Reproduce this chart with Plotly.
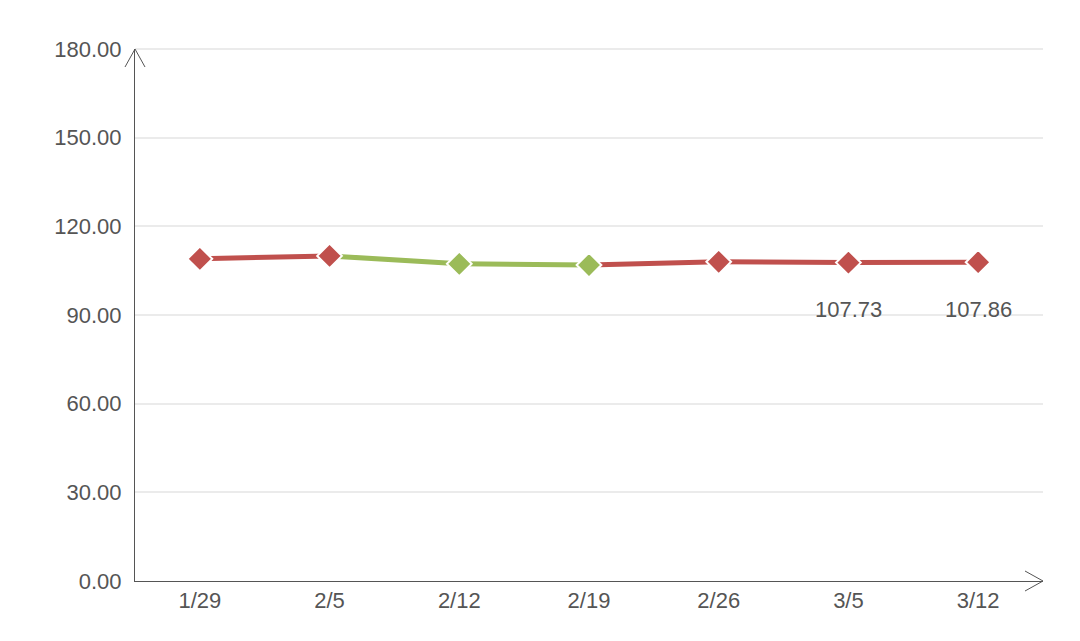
import plotly.graph_objects as go

dates = ["1/29", "2/5", "2/12", "2/19", "2/26", "3/5", "3/12"]
values = [109.0, 110.0, 107.3, 106.9, 108.0, 107.73, 107.86]
labels = ["", "", "", "", "", "107.73", "107.86"]
point_colors = ["red", "red", "green", "green", "red", "red", "red"]
yticks = [0, 30, 60, 90, 120, 150, 180]

COL = {"red": "#c0504d", "green": "#9bbb59"}

fig = go.Figure()
for i in range(len(dates) - 1):
    c = COL[point_colors[i + 1]]
    fig.add_trace(go.Scatter(x=[i, i + 1], y=[values[i], values[i + 1]], mode="lines",
                             line=dict(color=c, width=5), showlegend=False, hoverinfo="skip"))
fig.add_trace(go.Scatter(x=list(range(len(dates))), y=values, mode="markers",
                         marker=dict(symbol="diamond", size=19, color=[COL[c] for c in point_colors],
                                     line=dict(color="white", width=2)),
                         showlegend=False))
for i, t in enumerate(labels):
    if t:
        fig.add_annotation(x=i, y=values[i], text=t, showarrow=False, yshift=-47,
                           font=dict(size=22, color="#555"))

fig.update_layout(
    width=1080, height=641, plot_bgcolor="white", paper_bgcolor="white",
    margin=dict(l=127, r=45, t=41, b=68),
    font=dict(family="Liberation Sans, Arial", size=22, color="#555"),
    xaxis=dict(range=[-0.5, 6.5], tickvals=list(range(len(dates))), ticktext=dates,
               showline=True, linecolor="#555", linewidth=1, showgrid=False, ticks="",
               zeroline=False, automargin=False, tickfont=dict(size=22)),
    yaxis=dict(range=[0, 180], tickvals=yticks, ticktext=[f"{v:.2f}" for v in yticks],
               showline=True, linecolor="#555", linewidth=1, gridcolor="#ebebeb",
               gridwidth=2, zeroline=False, ticks="", automargin=False, tickfont=dict(size=22),
               ticklabelstandoff=8),
)
W, H = 1080 - 127 - 45, 641 - 41 - 68
def px(dx): return dx / W
def py(dy): return dy / H
fig.add_shape(type="line", xref="paper", yref="paper", x0=0, y0=1, x1=1, y1=1,
              line=dict(color="#ebebeb", width=2), layer="below")
fig.add_shape(type="path", xref="paper", yref="paper",
              path=f"M {1-px(18)},{py(10)} L 1,0 L {1-px(18)},{-py(10)}",
              line=dict(color="#555", width=1))
fig.add_shape(type="path", xref="paper", yref="paper",
              path=f"M {-px(10)},{1-py(18)} L 0,1 L {px(10)},{1-py(18)}",
              line=dict(color="#555", width=1))
fig.write_html("out.html")
